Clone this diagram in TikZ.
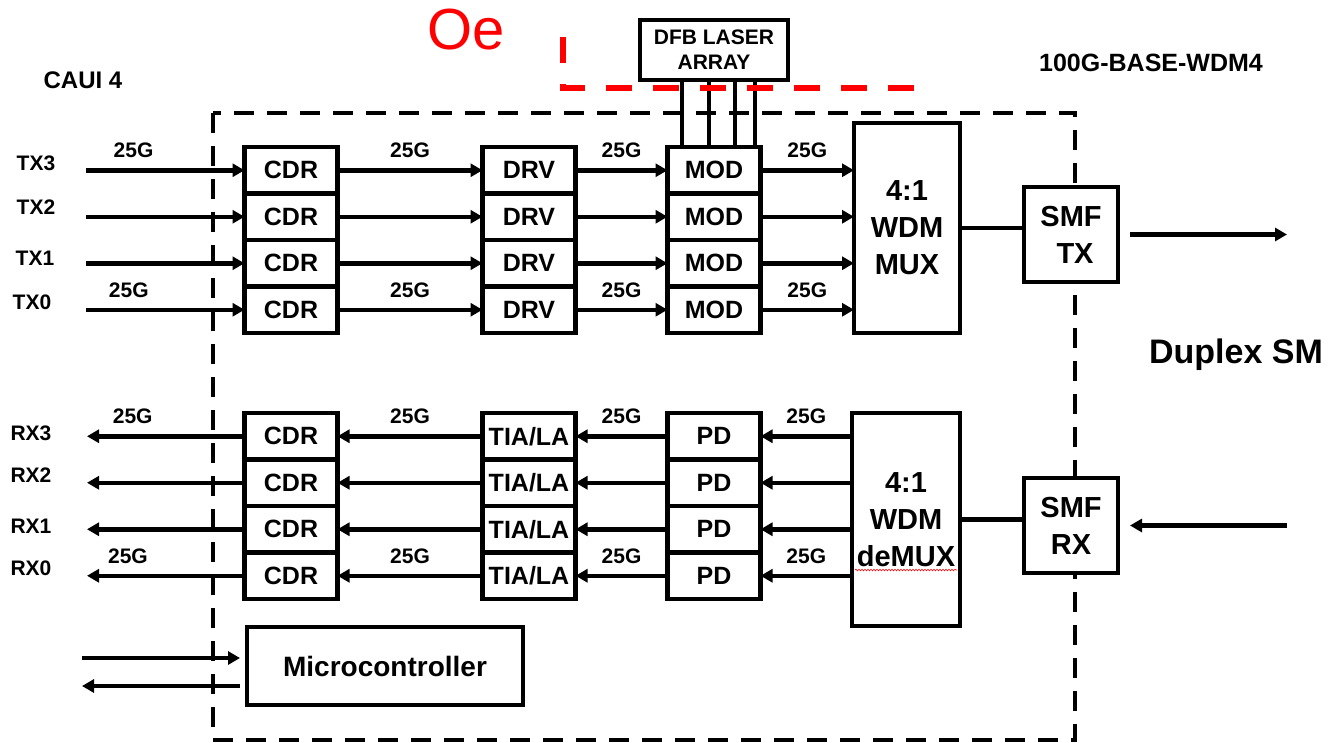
\documentclass[tikz,border=0pt]{standalone}
\usepackage{fontspec}
\setmainfont{Liberation Sans}
\usetikzlibrary{
    arrows.meta,
    positioning,
    decorations.pathmorphing
}

\begin{document}
\begin{tikzpicture}[
    x=1pt, y=-1pt,
    node distance=0pt,
    box/.style={rectangle, draw, line width=4.5pt, outer sep=0pt, inner sep=0pt, minimum width=93pt, minimum height=46.5pt, font=\fontsize{25}{25}\selectfont\bfseries},
    bigbox/.style={rectangle, draw, fill=white, line width=4.5pt, outer sep=0pt, inner sep=0pt, align=center, font=\fontsize{29}{37}\selectfont\bfseries},
    arrow/.style={-{Triangle[length=12pt, width=13pt]}, line width=4.5pt},
    wire/.style={line width=4.5pt},
    rate/.style={font=\fontsize{21}{21}\selectfont\bfseries, inner sep=0pt, above=10pt},
    port/.style={font=\fontsize{21}{21}\selectfont\bfseries, inner sep=0pt},
    title/.style={font=\fontsize{25}{25}\selectfont\bfseries, inner sep=0pt}
]
\useasboundingbox (0,0) rectangle (1329,742);

% module outline
\draw[line width=4pt, dash pattern=on 20pt off 13pt] (213,113) rectangle (1075,740);

% transmit side
\node[box] (cdrT3) at (291,170.25) {CDR};
\node[box, below=of cdrT3] (cdrT2) {CDR};
\node[box, below=of cdrT2] (cdrT1) {CDR};
\node[box, below=of cdrT1] (cdrT0) {CDR};
\node[box, right=145pt of cdrT3] (drvT3) {DRV};
\node[box, below=of drvT3] (drvT2) {DRV};
\node[box, below=of drvT2] (drvT1) {DRV};
\node[box, below=of drvT1] (drvT0) {DRV};
\node[box, right=92pt of drvT3] (modT3) {MOD};
\node[box, below=of modT3] (modT2) {MOD};
\node[box, below=of modT2] (modT1) {MOD};
\node[box, below=of modT1] (modT0) {MOD};
\node[bigbox, minimum width=106pt, minimum height=210pt] (mux) at (907,228) {4:1\\WDM\\MUX};
\node[bigbox, minimum width=94pt, minimum height=95pt] (smftx) at (1071,234.5) {SMF\\\ TX};
\node[bigbox, minimum width=148pt, minimum height=60pt, font=\fontsize{21}{25}\selectfont\bfseries] (dfb) at (714,50) {DFB LASER\\ARRAY};

% receive side
\node[box] (cdrR3) at (291,436.25) {CDR};
\node[box, below=of cdrR3] (cdrR2) {CDR};
\node[box, below=of cdrR2] (cdrR1) {CDR};
\node[box, below=of cdrR1] (cdrR0) {CDR};
\node[box, right=145pt of cdrR3] (tiaR3) {TIA/LA};
\node[box, below=of tiaR3] (tiaR2) {TIA/LA};
\node[box, below=of tiaR2] (tiaR1) {TIA/LA};
\node[box, below=of tiaR1] (tiaR0) {TIA/LA};
\node[box, right=92pt of tiaR3] (pdR3) {PD};
\node[box, below=of pdR3] (pdR2) {PD};
\node[box, below=of pdR2] (pdR1) {PD};
\node[box, below=of pdR1] (pdR0) {PD};
\node[bigbox, minimum width=108pt, minimum height=213pt] (demux) at (906,519.5) {4:1\\WDM\\deMUX};
\node[bigbox, minimum width=94pt, minimum height=95pt] (smfrx) at (1071,525.5) {SMF\\RX};
\node[bigbox, minimum width=276pt, minimum height=78pt, font=\fontsize{28}{28}\selectfont\bfseries] (micro) at (385,666) {Microcontroller};

% texts
\node[text=red, font=\fontsize{58}{58}\selectfont, inner sep=0pt] (oe) at (466,30) {Oe};
\node[title, font=\fontsize{24}{24}\selectfont\bfseries] (caui) at (83,80) {CAUI 4};
\node[title] (wdm4) at (1151,63) {100G-BASE-WDM4};
\node[title, font=\fontsize{34}{34}\selectfont\bfseries, anchor=base] (duplex) at (1236,363) {Duplex SM};
\node[port] (tx3) at (36,163) {TX3};
\node[port] (tx2) at (36,207) {TX2};
\node[port] (tx1) at (35,258) {TX1};
\node[port] (tx0) at (32,302) {TX0};
\node[port] (rx3) at (31,433) {RX3};
\node[port] (rx2) at (31,475) {RX2};
\node[port] (rx1) at (31,526) {RX1};
\node[port] (rx0) at (31,568) {RX0};

% free ends
\coordinate (txin) at (86,0);
\coordinate (rxout) at (87,0);
\coordinate (ctlin) at (82,0);
\coordinate (fibre) at (1287,0);
\coordinate (mcin) at ([shift={(-7,-8)}]micro.west);
\coordinate (mcout) at ([shift={(-7,20)}]micro.west);

% TX lanes
\draw[arrow] (txin |- cdrT3) -- node[rate, pos=0.3] {25G} (cdrT3.west);
\draw[arrow] (txin |- cdrT2) -- (cdrT2.west);
\draw[arrow] (txin |- cdrT1) -- (cdrT1.west);
\draw[arrow] (txin |- cdrT0) -- node[rate, pos=0.27] {25G} (cdrT0.west);
\draw[arrow] (cdrT3.east) -- node[rate] {25G} (drvT3.west);
\draw[arrow] (cdrT2.east) -- (drvT2.west);
\draw[arrow] (cdrT1.east) -- (drvT1.west);
\draw[arrow] (cdrT0.east) -- node[rate] {25G} (drvT0.west);
\draw[arrow] (drvT3.east) -- node[rate] {25G} (modT3.west);
\draw[arrow] (drvT2.east) -- (modT2.west);
\draw[arrow] (drvT1.east) -- (modT1.west);
\draw[arrow] (drvT0.east) -- node[rate] {25G} (modT0.west);
\draw[arrow] (modT3.east) -- node[rate] {25G} (modT3.east -| mux.west);
\draw[arrow] (modT2.east) -- (modT2.east -| mux.west);
\draw[arrow] (modT1.east) -- (modT1.east -| mux.west);
\draw[arrow] (modT0.east) -- node[rate] {25G} (modT0.east -| mux.west);
\draw[wire] (mux.east) -- (mux.east -| smftx.west);
\draw[arrow] ([xshift=12pt]smftx.east) -- (fibre |- smftx);

% RX lanes
\draw[arrow] (demux.west |- pdR3) -- node[rate] {25G} (pdR3.east);
\draw[arrow] (demux.west |- pdR2) -- (pdR2.east);
\draw[arrow] (demux.west |- pdR1) -- (pdR1.east);
\draw[arrow] (demux.west |- pdR0) -- node[rate] {25G} (pdR0.east);
\draw[arrow] (pdR3.west) -- node[rate] {25G} (tiaR3.east);
\draw[arrow] (pdR2.west) -- (tiaR2.east);
\draw[arrow] (pdR1.west) -- (tiaR1.east);
\draw[arrow] (pdR0.west) -- node[rate] {25G} (tiaR0.east);
\draw[arrow] (tiaR3.west) -- node[rate] {25G} (cdrR3.east);
\draw[arrow] (tiaR2.west) -- (cdrR2.east);
\draw[arrow] (tiaR1.west) -- (cdrR1.east);
\draw[arrow] (tiaR0.west) -- node[rate] {25G} (cdrR0.east);
\draw[arrow] (cdrR3.west) -- node[rate, pos=0.71] {25G} (rxout |- cdrR3);
\draw[arrow] (cdrR2.west) -- (rxout |- cdrR2);
\draw[arrow] (cdrR1.west) -- (rxout |- cdrR1);
\draw[arrow] (cdrR0.west) -- node[rate, pos=0.74] {25G} (rxout |- cdrR0);
\draw[wire] (demux.east) -- (demux.east -| smfrx.west);
\draw[arrow] (fibre |- smfrx) -- ([xshift=12pt]smfrx.east);

% control
\draw[arrow] (ctlin |- mcin) -- (mcin);
\draw[arrow] (mcout) -- (ctlin |- mcout);

% laser feeds
\path (dfb.south) ++(-32,0) coordinate (las1);
\path (dfb.south) ++(-5,0) coordinate (las2);
\path (dfb.south) ++(21,0) coordinate (las3);
\path (dfb.south) ++(41,0) coordinate (las4);
\draw[line width=3.5pt] (las1) -- (las1 |- modT3.north);
\draw[line width=3.5pt] (las2) -- (las2 |- modT3.north);
\draw[line width=3.5pt] (las3) -- (las3 |- modT3.north);
\draw[line width=3.5pt] (las4) -- (las4 |- modT3.north);

% Oe boundary
\draw[red, line width=6pt, dash pattern=on 26pt off 21pt] (563,37) |- (915,88);

% spell check mark
\draw[red, line width=0.6pt, decorate, decoration={snake, amplitude=0.8pt, segment length=3pt}]
    ([shift={(-51,50.5)}]demux.center) -- ([shift={(51,50.5)}]demux.center);
\end{tikzpicture}
\end{document}
